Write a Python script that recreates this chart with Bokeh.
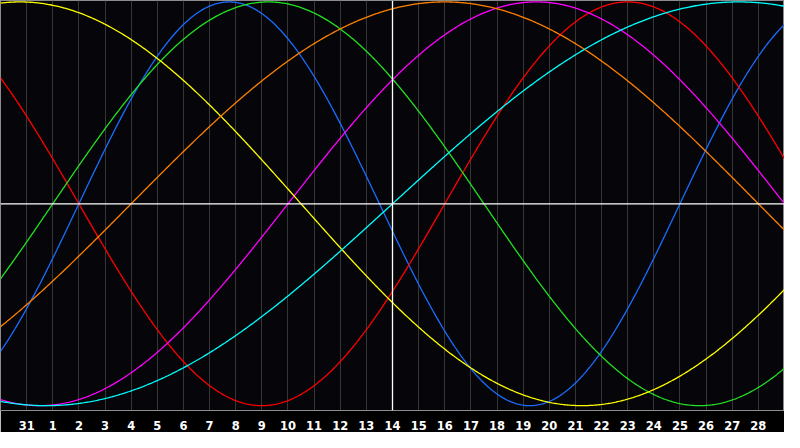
import numpy as np
from bokeh.plotting import figure
from bokeh.models import FixedTicker, Span, Range1d
from bokeh.embed import file_html
from bokeh.resources import INLINE

# biorhythm cycles: period in days, day (chart position) of an upward zero crossing
cycle_names = ["physical", "emotional", "intellectual", "intuitive",
               "aesthetic", "awareness", "spiritual"]
cycle_periods = [23, 28, 33, 38, 43, 48, 53]
cycle_zero_day = [3, 17, 2, 11, -10, 5, 15]
cycle_colors = ["#1a6cff", "#ff0000", "#22e022", "#ff00ff",
                "#ffff00", "#ff8000", "#00ffff"]

# day-of-month labels on positions 1..29, "today" at position 15
day_labels = ["31", "1", "2", "3", "4", "5", "6", "7", "8", "9", "10", "11",
              "12", "13", "14", "15", "16", "17", "18", "19", "20", "21",
              "22", "23", "24", "25", "26", "27", "28"]
today_pos = 15

p = figure(width=784, height=432, output_backend="svg", toolbar_location=None,
           x_range=Range1d(0, 30), y_range=Range1d(-1.024, 1.007),
           min_border_left=0, min_border_right=0, min_border_top=0,
           min_border_bottom=0)

p.background_fill_color = "#06060a"
p.border_fill_color = "#000000"
p.outline_line_color = "#8c8c8c"
p.outline_line_width = 1

ticks = list(range(1, len(day_labels) + 1))
p.xaxis.ticker = FixedTicker(ticks=ticks)
p.xaxis.major_label_overrides = {t: lab for t, lab in zip(ticks, day_labels)}
p.xaxis.axis_line_color = "#8c8c8c"
p.xaxis.major_tick_line_color = None
p.xaxis.minor_tick_line_color = None
p.xaxis.major_label_text_color = "white"
p.xaxis.major_label_text_font = "DejaVu Sans"
p.xaxis.major_label_text_font_style = "bold"
p.xaxis.major_label_text_font_size = "11.5px"
p.xaxis.major_label_standoff = 4
p.yaxis.visible = False

p.xgrid.grid_line_color = "#363636"
p.ygrid.grid_line_color = None

p.add_layout(Span(location=0, dimension="width", line_color="white", line_width=1.3))
p.add_layout(Span(location=today_pos, dimension="height", line_color="white", line_width=1.3))

days = np.linspace(0, 30, 601)
for name, per, z, col in zip(cycle_names, cycle_periods, cycle_zero_day, cycle_colors):
    vals = np.sin(2 * np.pi * (days - z) / per)
    p.line(days, vals, line_color=col, line_width=1.3)

open("out.html", "w").write(file_html(p, INLINE))
